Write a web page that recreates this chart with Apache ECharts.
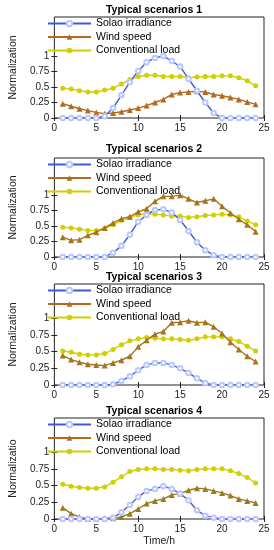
<!DOCTYPE html>
<html><head><meta charset="utf-8">
<script src="https://cdn.jsdelivr.net/npm/echarts@6/dist/echarts.min.js"></script>
<style>html,body{margin:0;padding:0;background:#fff}#c{width:274px;height:550px}</style>
</head><body><div id="c"></div>
<script>
var hours = [1,2,3,4,5,6,7,8,9,10,11,12,13,14,15,16,17,18,19,20,21,22,23,24];
var seriesNames = ['Solao irradiance','Wind speed','Conventional load'];
var titles = ['Typical scenarios 1','Typical scenarios 2','Typical scenarios 3','Typical scenarios 4'];
var yNames = ['Normalization','Normalization','Normalization','Normalizatio'];
var yTicks = [0,0.25,0.5,0.75,1];
var yMaxes = [1.63,1.6,1.51,1.51];
var xTicks = [0,5,10,15,20,25];

var solar1 = [0,0,0,0,0,0.03,0.16,0.37,0.58,0.76,0.9,0.97,1.0,0.92,0.83,0.63,0.44,0.25,0.08,0,0,0,0,0];
var wind1  = [0.23,0.19,0.15,0.12,0.09,0.07,0.08,0.1,0.13,0.16,0.2,0.25,0.3,0.38,0.41,0.42,0.43,0.42,0.38,0.36,0.33,0.3,0.26,0.22];
var load1  = [0.48,0.47,0.44,0.42,0.42,0.45,0.48,0.55,0.62,0.67,0.69,0.69,0.67,0.67,0.67,0.65,0.66,0.67,0.67,0.68,0.68,0.65,0.6,0.52];

var solar2 = [0,0,0,0,0,0,0.07,0.18,0.36,0.57,0.68,0.76,0.77,0.72,0.6,0.42,0.24,0.11,0.03,0,0,0,0,0];
var wind2  = [0.32,0.27,0.28,0.35,0.4,0.47,0.55,0.62,0.65,0.73,0.78,0.9,0.98,0.98,1.0,0.94,0.88,0.91,0.94,0.82,0.71,0.61,0.52,0.41];
var load2  = [0.48,0.47,0.45,0.43,0.43,0.46,0.52,0.59,0.64,0.68,0.7,0.69,0.68,0.66,0.66,0.64,0.65,0.67,0.68,0.69,0.68,0.65,0.58,0.52];

var solar3 = [0,0,0,0,0,0,0.01,0.06,0.13,0.22,0.3,0.33,0.33,0.3,0.25,0.18,0.1,0.03,0,0,0,0,0,0];
var wind3  = [0.44,0.38,0.34,0.31,0.3,0.29,0.33,0.37,0.43,0.57,0.67,0.76,0.8,0.93,0.94,0.96,0.93,0.94,0.87,0.77,0.64,0.53,0.43,0.35];
var load3  = [0.51,0.49,0.46,0.45,0.45,0.47,0.53,0.6,0.66,0.69,0.71,0.7,0.69,0.69,0.68,0.67,0.69,0.72,0.72,0.72,0.69,0.65,0.58,0.51];

var solar4 = [0,0,0,0,0,0,0.02,0.1,0.21,0.33,0.42,0.45,0.49,0.45,0.38,0.28,0.13,0.05,0.02,0,0,0,0,0];
var wind4  = [0.17,0.08,0.03,0,0,0.01,0.01,0.03,0.08,0.15,0.23,0.27,0.3,0.36,0.38,0.43,0.46,0.45,0.42,0.39,0.35,0.3,0.27,0.24];
var load4  = [0.52,0.49,0.47,0.46,0.46,0.48,0.55,0.63,0.71,0.74,0.75,0.75,0.74,0.74,0.73,0.72,0.74,0.75,0.75,0.75,0.72,0.68,0.62,0.54];

var panels = [[solar1,wind1,load1],[solar2,wind2,load2],[solar3,wind3,load3],[solar4,wind4,load4]];

var gridTops = [17,158,284,418];
var gridHeights = [101,99,101,101];
var titleCenters = [10.5,150,277.5,411.5];
var solarColors = ['#3d5bd9','#3d5bd9','#3d5bd9','#6a4fd6'];
var windColors = ['#b56a1e','#a8731c','#a8731c','#9a7a1e'];
var loadColor = '#d2cf00';
var FONT = 'Liberation Sans, Arial, sans-serif';

function pair(v){ return hours.map(function(h,i){ return [h, v[i]]; }); }

var option = {animation:false, textStyle:{fontFamily:FONT}, title:[], legend:[], grid:[], xAxis:[], yAxis:[], series:[]};

for (var p=0;p<4;p++){
  option.grid.push({left:44, right:10, top:gridTops[p], height:gridHeights[p], show:true,
    borderColor:'#222', borderWidth:1, backgroundColor:'transparent'});
  option.title.push({text:titles[p], left:154, textAlign:'center', top:titleCenters[p]-6, padding:0,
    textStyle:{fontSize:10.5, fontWeight:'bold', color:'#000', fontFamily:FONT}});
  option.legend.push({orient:'vertical', left:47, top:gridTops[p]+1, itemWidth:43, itemHeight:7, itemGap:2.5,
    padding:0, data:seriesNames.slice(), selectedMode:false,
    textStyle:{fontSize:10.5, color:'#000', fontFamily:FONT, padding:[0,0,0,0]}});
  var axLine = {show:false};
  option.xAxis.push({type:'value', gridIndex:p, min:0, max:25, interval:5, position:'bottom',
    axisLine:axLine, splitLine:{show:false},
    axisTick:{show:true, inside:true, length:3, lineStyle:{color:'#222'}},
    axisLabel:{fontSize:10, color:'#222', margin:5, fontFamily:FONT},
    name: p===3 ? 'Time/h' : '', nameLocation:'middle', nameGap:17,
    nameTextStyle:{fontSize:10.5, color:'#222', fontFamily:FONT}});
  option.xAxis.push({type:'value', gridIndex:p, min:0, max:25, interval:5, position:'top',
    axisLine:axLine, splitLine:{show:false},
    axisTick:{show:true, inside:true, length:3, lineStyle:{color:'#222'}},
    axisLabel:{show:false}});
  option.yAxis.push({type:'value', gridIndex:p, min:0, max:yMaxes[p], position:'left',
    axisLine:axLine, splitLine:{show:false},
    axisTick:{show:true, inside:true, length:3, customValues:yTicks, lineStyle:{color:'#222'}},
    axisLabel:{fontSize:10, color:'#222', margin:5, customValues:yTicks, fontFamily:FONT,
      formatter:function(v){ return String(Math.round(v*100)/100); }},
    name:yNames[p], nameLocation:'middle', nameGap:28, nameRotate:90,
    nameTextStyle:{fontSize:10.5, color:'#222', fontFamily:FONT}});
  option.yAxis.push({type:'value', gridIndex:p, min:0, max:yMaxes[p], position:'right',
    axisLine:axLine, splitLine:{show:false},
    axisTick:{show:true, inside:true, length:3, customValues:yTicks, lineStyle:{color:'#222'}},
    axisLabel:{show:false}});
  var d = panels[p];
  option.series.push({name:seriesNames[0], type:'line', xAxisIndex:2*p, yAxisIndex:2*p, data:pair(d[0]),
    symbol:'emptyCircle', symbolSize:4.5, color:solarColors[p], lineStyle:{width:1.4, color:solarColors[p]},
    itemStyle:{color:'#b8c8ff', borderColor:solarColors[p], borderWidth:1.1}, z:3});
  option.series.push({name:seriesNames[1], type:'line', xAxisIndex:2*p, yAxisIndex:2*p, data:pair(d[1]),
    symbol:'triangle', symbolSize:6, color:windColors[p], lineStyle:{width:1.4, color:windColors[p]},
    itemStyle:{color:windColors[p]}, z:2});
  option.series.push({name:seriesNames[2], type:'line', xAxisIndex:2*p, yAxisIndex:2*p, data:pair(d[2]),
    symbol:'circle', symbolSize:5, color:loadColor, lineStyle:{width:1.4, color:loadColor},
    itemStyle:{color:loadColor}, z:1});
}

var chart = echarts.init(document.getElementById('c'), null, {renderer:'canvas'});
chart.setOption(option);
</script>
</body></html>
